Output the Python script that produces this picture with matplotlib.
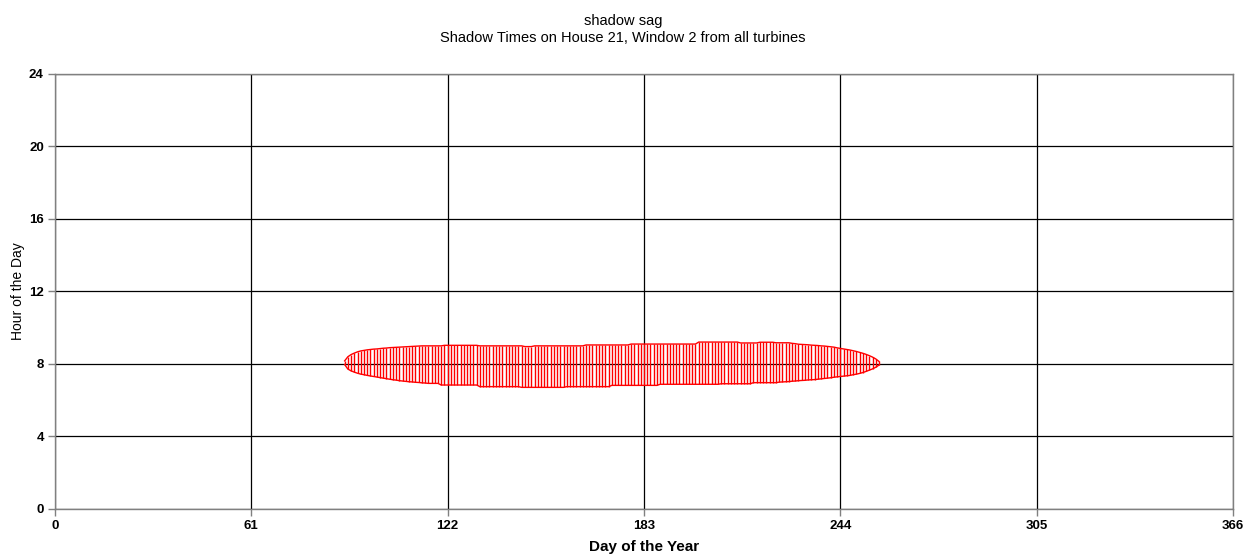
import matplotlib.pyplot as plt
import numpy as np

plt.rcParams['font.family'] = ['Liberation Sans', 'DejaVu Sans']

# Days of the year with shadow on the window
days = np.arange(90, 257)

# Shadow end time (hour of the day), one value per day
shadow_end = [
    8.17, 8.40, 8.52, 8.60, 8.67, 8.72, 8.75, 8.78, 8.80, 8.82,
    8.83, 8.85, 8.87, 8.88, 8.90, 8.91, 8.92, 8.93, 8.94, 8.95,
    8.96, 8.97, 8.98, 8.99, 9.00, 9.00, 9.00, 9.00, 9.00, 9.00,
    9.00, 9.03, 9.03, 9.03, 9.03, 9.03, 9.03, 9.03, 9.03, 9.03,
    9.03, 9.03, 9.00, 9.00, 9.00, 9.00, 9.00, 9.00, 9.00, 9.00,
    9.00, 9.00, 9.00, 9.00, 9.00, 9.00, 8.96, 8.96, 8.96, 9.00,
    9.00, 9.00, 9.00, 9.00, 9.00, 9.00, 9.00, 9.00, 9.00, 9.00,
    9.00, 9.00, 9.00, 9.00, 9.00, 9.05, 9.05, 9.05, 9.05, 9.05,
    9.05, 9.05, 9.05, 9.05, 9.05, 9.05, 9.05, 9.05, 9.05, 9.10,
    9.10, 9.10, 9.10, 9.10, 9.10, 9.10, 9.10, 9.10, 9.10, 9.10,
    9.10, 9.10, 9.10, 9.10, 9.10, 9.10, 9.10, 9.10, 9.10, 9.10,
    9.21, 9.21, 9.21, 9.21, 9.21, 9.21, 9.21, 9.21, 9.21, 9.21,
    9.21, 9.21, 9.21, 9.16, 9.16, 9.16, 9.16, 9.16, 9.16, 9.20,
    9.20, 9.20, 9.20, 9.20, 9.17, 9.17, 9.17, 9.17, 9.17, 9.14,
    9.12, 9.09, 9.08, 9.07, 9.06, 9.04, 9.03, 9.02, 9.00, 8.99,
    8.97, 8.95, 8.93, 8.89, 8.86, 8.83, 8.80, 8.77, 8.73, 8.69,
    8.64, 8.59, 8.53, 8.46, 8.38, 8.28, 8.14,
]

# Shadow start time (hour of the day), one value per day
shadow_start = [
    7.97, 7.72, 7.62, 7.55, 7.49, 7.44, 7.41, 7.37, 7.34, 7.31,
    7.28, 7.25, 7.22, 7.19, 7.16, 7.13, 7.11, 7.08, 7.06, 7.04,
    7.02, 7.01, 6.99, 6.98, 6.96, 6.95, 6.93, 6.93, 6.93, 6.93,
    6.84, 6.84, 6.84, 6.84, 6.84, 6.84, 6.84, 6.84, 6.84, 6.84,
    6.84, 6.84, 6.75, 6.75, 6.75, 6.75, 6.75, 6.75, 6.75, 6.75,
    6.75, 6.75, 6.75, 6.75, 6.75, 6.71, 6.71, 6.71, 6.71, 6.71,
    6.71, 6.71, 6.71, 6.71, 6.71, 6.71, 6.71, 6.71, 6.71, 6.75,
    6.75, 6.75, 6.75, 6.75, 6.75, 6.75, 6.75, 6.75, 6.75, 6.75,
    6.75, 6.75, 6.75, 6.82, 6.82, 6.82, 6.82, 6.82, 6.82, 6.82,
    6.82, 6.82, 6.82, 6.82, 6.82, 6.82, 6.82, 6.82, 6.88, 6.88,
    6.88, 6.88, 6.88, 6.88, 6.88, 6.88, 6.88, 6.88, 6.88, 6.88,
    6.88, 6.88, 6.88, 6.88, 6.88, 6.88, 6.88, 6.91, 6.91, 6.91,
    6.91, 6.91, 6.91, 6.91, 6.91, 6.91, 6.91, 6.97, 6.97, 6.97,
    6.97, 6.97, 6.97, 6.97, 6.97, 7.00, 7.01, 7.02, 7.03, 7.05,
    7.06, 7.08, 7.09, 7.10, 7.12, 7.13, 7.14, 7.16, 7.18, 7.20,
    7.22, 7.24, 7.27, 7.29, 7.31, 7.33, 7.35, 7.37, 7.41, 7.44,
    7.48, 7.53, 7.59, 7.66, 7.73, 7.82, 7.94,
]

x_ticks = [0, 61, 122, 183, 244, 305, 366]
y_ticks = [0, 4, 8, 12, 16, 20, 24]

fig = plt.figure(figsize=(12.46, 5.55), dpi=100)
ax = fig.add_axes([0.0441, 0.0829, 0.9455, 0.7838])

# one vertical bar per day from shadow start to shadow end
ax.vlines(days, shadow_start, shadow_end, color='red', lw=1.0, zorder=3)
ax.plot(days, shadow_end, color='red', lw=1.0, zorder=3)
ax.plot(days, shadow_start, color='red', lw=1.0, zorder=3)

ax.set_xlim(0, 366)
ax.set_ylim(0, 24)
ax.set_xticks(x_ticks)
ax.set_yticks(y_ticks)
ax.grid(True, color='black', lw=0.9)
ax.set_axisbelow(True)
for s in ax.spines.values():
    s.set_color('#808080')
    s.set_linewidth(1.0)
ax.tick_params(length=5, width=1, color='#808080', labelsize=9.5, pad=3)
for lbl in ax.get_xticklabels() + ax.get_yticklabels():
    lbl.set_fontweight('bold')

ax.set_xlabel('Day of the Year', fontsize=11, fontweight='bold', labelpad=6)
ax.set_ylabel('Hour of the Day', fontsize=10)
ax.yaxis.set_label_coords(-0.025, 0.5)

fig.text(0.5, 0.962, 'shadow sag', ha='center', va='center', fontsize=10.5)
fig.text(0.5, 0.932, 'Shadow Times on House 21, Window 2 from all turbines',
         ha='center', va='center', fontsize=10.5)

plt.savefig('out.png', dpi=100)
